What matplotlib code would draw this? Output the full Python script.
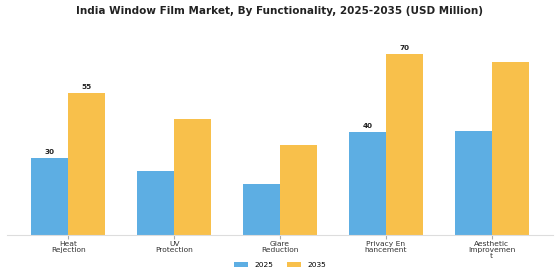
import matplotlib
matplotlib.use("Agg")
import matplotlib.pyplot as plt
import numpy as np

categories = ["Heat\nRejection", "UV\nProtection", "Glare\nReduction", "Privacy En\nhancement", "Aesthetic\nImprovemen\nt"]
values_2025 = [30, 25, 20, 40, 40.5]
values_2035 = [55, 45, 35, 70, 67]
labeled = [0, 3]

fig = plt.figure(figsize=(5.6, 2.8), dpi=100)
ax = fig.add_axes([0.0125, 0.16, 0.975, 0.71])
x = np.arange(len(categories))
w = 0.35
c1, c2 = "#5DAEE3", "#F8C04B"
b1 = ax.bar(x - w/2, values_2025, w, color=c1, label="2025")
b2 = ax.bar(x + w/2, values_2035, w, color=c2, label="2035")
for i in labeled:
    ax.text(x[i] - w/2, values_2025[i] + 1.2, f"{values_2025[i]:g}", ha="center", va="bottom", fontsize=5.2, fontweight="bold", color="#222222")
    ax.text(x[i] + w/2, values_2035[i] + 1.2, f"{values_2035[i]:g}", ha="center", va="bottom", fontsize=5.2, fontweight="bold", color="#222222")
ax.set_xlim(-0.58, 4.58)
ax.set_ylim(0, 77)
ax.set_xticks(x)
ax.set_xticklabels(categories, fontsize=5.4, color="#333333", linespacing=1.0)
ax.tick_params(axis="x", length=3, color="#aaaaaa", pad=1.5)
ax.set_yticks([])
for s in ["top", "right", "left"]:
    ax.spines[s].set_visible(False)
ax.spines["bottom"].set_color("#dddddd")
fig.text(0.5, 0.96, "India Window Film Market, By Functionality, 2025-2035 (USD Million)", fontsize=7.5, fontweight="bold", ha="center", va="center", color="#222222")
fig.legend(handles=[b1, b2], labels=["2025", "2035"], loc="center", bbox_to_anchor=(0.5, 0.053), ncol=2, frameon=False, fontsize=5.4, handlelength=1.9, handleheight=0.55, columnspacing=1.9, handletextpad=0.8)
fig.savefig("out.png", dpi=100)
